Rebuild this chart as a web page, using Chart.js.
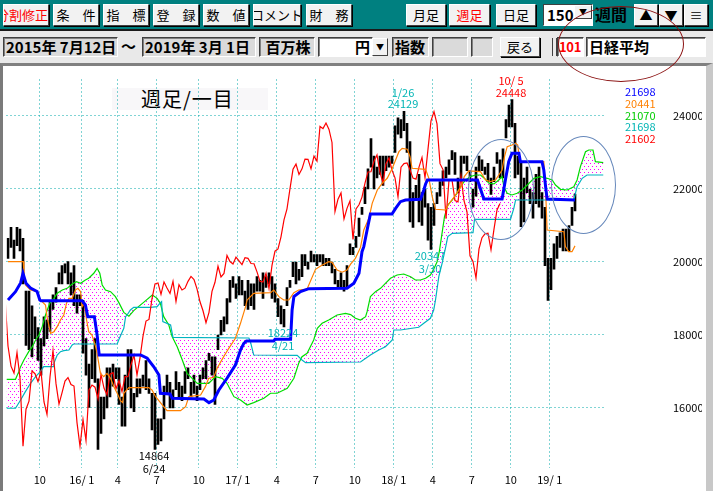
<!DOCTYPE html>
<html lang="ja">
<head>
<meta charset="utf-8">
<title>週足/一目</title>
<script src="https://cdn.jsdelivr.net/npm/chart.js@4.4.1/dist/chart.umd.min.js"></script>
<style>
  body { margin:0; width:713px; height:491px; overflow:hidden; position:relative; background:#e9e9e9; font-family:"Noto Sans CJK JP", sans-serif; }
  .top { position:absolute; left:0; top:0; width:713px; height:29px; background:#008080; border-bottom:2px solid #1a1a1a; }
  .btn { position:absolute; top:4px; height:22px; box-sizing:border-box; background:#f2f2f2; border:1px solid; border-color:#ffffff #404040 #404040 #ffffff; box-shadow:1px 1px 0 #000; font-size:13px; line-height:20px; color:#000; display:flex; justify-content:center; overflow:hidden; white-space:nowrap; }
  .red { color:#ff0000; }
  .fld { position:absolute; top:37px; height:20px; box-sizing:border-box; border:1px solid; border-color:#404040 #ffffff #ffffff #404040; box-shadow:inset 1px 1px 0 #808080; background:#dadada; font-weight:bold; font-size:15px; line-height:18px; white-space:nowrap; overflow:hidden; padding-left:2px; }
  .white { background:#ffffff; }
  #panel { position:absolute; left:0; top:63px; width:713px; height:428px; box-sizing:border-box; background:#fff; border-top:3px solid #808080; border-left:3px solid #7a7a7a; border-right:7px solid #c8c8c8; }
  #chart { position:absolute; left:0; top:64px; }
  .oval { position:absolute; border-radius:50%; box-sizing:border-box; pointer-events:none; }
  #legend { position:absolute; left:625px; top:86px; font-size:11px; line-height:11.8px; }
  #title { position:absolute; left:112px; top:88px; width:156px; height:22px; background:#f8f7f9; }
  #titleText { position:absolute; left:141px; top:84px; font-size:20px; letter-spacing:1px; color:#000; }
</style>
</head>
<body>
<div class="top"></div>
<div class="btn red" style="left:3px;width:46px;justify-content:flex-end">分割修正</div>
<div class="btn" style="left:53px;width:46px">条　件</div>
<div class="btn" style="left:103px;width:46px">指　標</div>
<div class="btn" style="left:153px;width:46px">登　録</div>
<div class="btn" style="left:203px;width:46px">数　値</div>
<div class="btn" style="left:253px;width:48px">コメント</div>
<div class="btn" style="left:306px;width:46px">財　務</div>
<div class="btn" style="left:406px;width:40px">月足</div>
<div class="btn red" style="left:449px;width:41px">週足</div>
<div class="btn" style="left:496px;width:40px">日足</div>
<div style="position:absolute;left:543px;top:4px;width:50px;height:22px;box-sizing:border-box;background:#fff;border:1px solid;border-color:#404040 #fff #fff #404040;font-weight:bold;font-size:15px;line-height:19px;padding-left:3px">150</div>
<div class="btn" style="left:574px;top:5px;width:18px;height:14px;font-size:8px;line-height:12px;box-shadow:none">▼</div>
<div style="position:absolute;left:595px;top:3px;font-weight:bold;font-size:16px;line-height:22px;color:#000">週間</div>
<div class="btn" style="left:634px;width:24px">▲</div>
<div class="btn" style="left:659px;width:24px">▼</div>
<div class="btn" style="left:684px;width:24px">≡</div>

<div class="fld" style="left:3px;width:115px">2015年 7月12日</div>
<div style="position:absolute;left:121px;top:37px;font-weight:bold;font-size:15px;line-height:18px">～</div>
<div class="fld" style="left:142px;width:114px">2019年 3月 1日</div>
<div class="fld" style="left:259px;width:56px;text-align:center">百万株</div>
<div class="fld white" style="left:318px;width:55px;text-align:right;padding-right:2px">円</div>
<div class="btn" style="left:372px;top:38px;width:16px;height:18px;font-size:8px;line-height:16px;box-shadow:none">▼</div>
<div class="fld" style="left:392px;width:37px">指数</div>
<div class="fld" style="left:432px;width:36px"></div>
<div class="fld" style="left:471px;width:22px"></div>
<div class="btn" style="left:500px;top:37px;width:40px;height:20px;line-height:18px">戻る</div>
<div style="position:absolute;left:552px;top:38px;width:3px;height:18px;border-left:1px solid #404040;border-right:1px solid #404040"></div>
<div class="fld white red" style="left:557px;width:27px;padding-left:1px;font-size:13px;letter-spacing:-0.3px">101</div>
<div class="fld white" style="left:586px;width:120px">日経平均</div>

<div id="panel"></div>
<div id="title"></div>
<div id="titleText">週足/一目</div>
<canvas id="chart" width="713" height="427"></canvas>
<div id="legend"></div>
<div class="oval" style="left:558px;top:6px;width:126px;height:76px;border:1px solid #8a1010"></div>
<div class="oval" style="left:468px;top:139px;width:66px;height:101px;border:1px solid #6688bb"></div>
<div class="oval" style="left:551px;top:136px;width:65px;height:98px;border:1px solid #6688bb"></div>

<script>
// weekly bars, week 0 = 2015/7/17 ... week 189 = 2019/3/1
const highs = [
  20650,20950,20600,20950,20900,20650,19200,19200,18800,18500,
  18200,17900,18500,18400,18900,19100,19300,19700,19900,19950,
  20012,19700,19900,19100,19100,18951,17900,17200,17600,17900,
  16800,16300,16300,17100,17100,17200,17100,17100,16300,16900,
  17600,17600,16400,16800,16800,16900,17300,16800,16400,16400,
  15700,15700,16600,16900,16700,16500,17000,16700,16600,17000,
  17100,16700,16900,16600,16900,17100,17300,17500,17400,17400,
  18000,18400,18500,19000,19500,19600,19400,19600,19500,19200,
  19500,19400,19400,19600,19500,19700,19600,19700,19600,19400,
  19000,18800,18700,19300,19500,20000,20000,19800,20200,20200,
  20000,20300,20200,20200,20200,20200,20100,20100,20000,19800,
  19500,19700,19500,19900,20500,20400,20700,21200,21500,22050,
  22550,23382,22900,22600,22900,22900,22900,22900,22900,23730,
  23950,23900,24129,23800,23300,21900,22100,22400,21900,22000,
  21600,21500,21600,21900,22200,22500,22600,22800,23050,23000,
  22300,22900,22900,22900,22500,22000,22600,22900,22800,22600,
  22700,22300,22600,23000,22800,23100,23900,24300,24448,23800,
  22900,22700,22300,22600,22000,21900,22400,22600,21900,21500,
  20100,20100,20500,20700,20800,20900,20900,21000,21500,21860
];
const lows = [
  20100,20400,20100,20450,20300,19400,17714,17600,17400,17900,
  17300,16901,17700,17900,18100,18700,18900,19400,19400,19700,
  19400,19100,18800,18600,18800,17500,16900,16017,16800,16700,
  14865,15300,15700,16000,16300,16600,16800,16100,15500,15500,
  16500,16000,15900,16300,16400,16600,16500,16400,15400,14864,
  15000,15100,15700,16400,16000,16000,16500,16300,16200,16400,
  16800,16300,16400,16200,16500,16800,16800,17300,16900,16100,
  17600,18000,18100,18300,18900,19300,19000,19100,19100,18800,
  18700,18800,18700,19200,19200,19000,19300,19400,19000,18900,
  18500,18300,18224,18800,19300,19600,19400,19500,19600,19900,
  19800,20000,20000,19900,20000,19900,19900,19900,19700,19400,
  19300,19300,19200,19300,20200,20200,20400,20700,21300,21600,
  22000,22600,22000,22300,22400,22100,22500,22600,22700,23000,
  23500,23400,23600,23000,21100,20950,21700,21100,21000,21500,
  20600,20347,21000,21600,21800,22100,22300,22400,22800,22400,
  21900,22300,22700,22500,22200,21500,21800,22500,22500,22400,
  22200,21850,22200,22700,22300,22300,23400,23700,23700,22300,
  22400,20971,21100,21900,21600,21200,21600,21500,21200,19900,
  18949,19241,19800,20100,20400,20300,20300,20300,21000,21400
];
const closes = [
  20650,20545,20585,20724,20520,19436,19136,17792,18264,18070,
  17880,17725,18438,18291,18825,19083,19265,19597,19880,19883,
  19504,19230,18986,18770,19034,17698,17147,16958,17518,16820,
  14952,15967,16188,17015,16939,16725,17003,16164,15822,16848,
  17572,16666,16106,16412,16736,16834,16642,16601,15599,14952,
  15682,15107,16497,16627,16569,16254,16920,16545,16360,16925,
  16965,16519,16754,16450,16860,16856,17185,17446,16905,17374,
  17968,18381,18426,18996,19401,19427,19114,19454,19287,19137,
  19467,18918,19378,19234,19283,19469,19604,19521,19262,18909,
  18664,18335,18620,19197,19445,19883,19590,19686,20177,20013,
  19943,20132,20033,19929,20118,20099,19959,19952,19729,19470,
  19452,19691,19274,19909,20296,20356,20690,21155,21457,22008,
  22539,22681,22397,22551,22819,22811,22553,22902,22765,23714,
  23654,23808,23632,23275,21383,21720,21893,21182,21469,21676,
  20617,21454,21567,21778,22162,22467,22472,22758,22930,22451,
  22171,22694,22851,22516,22305,21788,22597,22697,22712,22525,
  22298,22270,22601,22865,22307,23094,23869,24120,23784,22694,
  22532,21184,22243,22250,21680,21646,22351,21678,21374,20166,
  20014,19561,20359,20666,20773,20788,20333,20900,21425,21602
];
const CHIKOU_LAG = 25; // 遅行スパン: close drawn 25 weeks back

// 一目均衡表 lines: [week, price]
const kijun = [[0,18959],[2.5,19187],[4.2,19425],[5,19690],[6,19420],[7.5,19288],[9.7,19190],[10.6,18959],[11,18940],[24.7,18940],[25.8,18822],[26.6,18500],[28.8,18500],[29.7,18000],[30.4,17452],[44.2,17452],[46.4,17362],[48.6,17130],[50.3,16904],[50.8,16404],[54,16384],[54.7,16266],[65.3,16247],[67,16146],[68.6,16219],[70.3,16493],[73,16815],[75.8,17178],[77.5,17589],[78.6,17771],[79.5,17836],[88.6,17836],[89,17882],[94.2,17882],[94.7,18685],[95.3,19050],[97.5,19187],[100.3,19270],[113,19280],[115.3,19416],[117,19690],[118,20282],[118.6,20420],[119.7,20877],[120.8,21315],[128,21315],[129.2,21470],[130.8,21652],[132.5,21699],[137.5,21718],[138.6,21973],[139.2,22137],[139.8,22247],[156.5,22247],[157.5,22000],[158.6,21726],[164.7,21726],[165.8,22247],[166.9,22748],[168,22978],[170.3,22978],[170.8,22748],[178,22748],[178.6,22521],[179.2,22063],[179.7,21726],[189,21698]];
const tenkan = [[0,20010],[5.1,20010],[5.3,19690],[5.8,19370],[7.5,19233],[9.7,19187],[10.8,18959],[12.5,18822],[13,18500],[14.2,18046],[15.3,18090],[16.4,18228],[17.5,18411],[18.6,18548],[19.5,18868],[20.3,19005],[21.4,19005],[22.5,19233],[23.3,19278],[24.2,19187],[24.7,18777],[25.3,18870],[26.2,18411],[26.9,18090],[28,18000],[29.2,17680],[29.7,17498],[30.8,16950],[31.9,16858],[33,16950],[34.2,16813],[35.3,16584],[36.4,16404],[37.5,16200],[38.2,16150],[38.6,16404],[40.3,16558],[46.9,16558],[48,16493],[49.2,16310],[51.9,16036],[53,15927],[57.5,15927],[59.2,16036],[60.3,16310],[64.2,16356],[65.8,16585],[66.9,16813],[68.6,16840],[69.7,17087],[71.9,17406],[73.6,17635],[75.8,17909],[77.5,18320],[79.2,18777],[79.7,18959],[81.9,19142],[87.5,19160],[88.6,19233],[90.3,19050],[91.9,18959],[93.6,18959],[95.3,19160],[96.9,19233],[99.7,19260],[102.5,19800],[104.2,19890],[106.9,20010],[108,19990],[109.7,19781],[111.4,19720],[113,19781],[114.2,19940],[115.8,20100],[117.5,20400],[118.6,20877],[120.3,21196],[121.4,21608],[123.1,21973],[124.7,22156],[126.4,22293],[128.1,22567],[129.2,22795],[130.3,23022],[131.4,23115],[133.1,23090],[134,22885],[134.7,22567],[139.2,22540],[140.3,22293],[141.4,21790],[142.5,21444],[145.8,21425],[147.1,21608],[148.8,21790],[149.9,21926],[151,22063],[152.1,22339],[153.6,22494],[157.5,22476],[159.2,22247],[160.8,22202],[162.5,22247],[163.6,22384],[164.7,22521],[165.5,22885],[166.4,23159],[168,23206],[169.2,23252],[169.9,23206],[170.6,22748],[178.6,22748],[179.2,21973],[179.7,20877],[185.3,20830],[185.8,20420],[186.9,20282],[188,20282],[189,20441]];
const senkouA = [[-0.5,16786],[2.5,16786],[3.6,16996],[4.2,17133],[5.3,17315],[6.9,17543],[8.1,17680],[9.2,17863],[10.3,18000],[11.4,18228],[12.5,18548],[13.9,18868],[15.3,19005],[16.4,19142],[18.1,19233],[19.7,19278],[21.4,19397],[22.8,19461],[24.2,19416],[25.8,19507],[26.9,19553],[28.6,19690],[29.7,19827],[30.6,19690],[31.4,19370],[32.5,19233],[34.2,19187],[35.8,19050],[37,18880],[38.6,18620],[40.3,18515],[42,18675],[45.3,18900],[48.1,19096],[49.7,19005],[50.8,18868],[51.9,18502],[53.6,18274],[54.7,17955],[56.4,17680],[58.1,17315],[59.7,16950],[61.4,16813],[63.1,16676],[66.9,16676],[69.2,16858],[71.4,16813],[73,16676],[75.3,16310],[77.5,16219],[79.7,16082],[81.9,16146],[85.3,16265],[87.5,16404],[89.7,16404],[93.1,16539],[95.3,16813],[96.9,17224],[98,17406],[99.7,17498],[101.9,17863],[103.1,18183],[104.7,18320],[106.9,18411],[109.7,18548],[112.5,18594],[114.2,18560],[115.8,18457],[117.5,18411],[119.2,18500],[119.7,18640],[120.8,19050],[122.5,19187],[124.2,19278],[125.8,19416],[127.5,19553],[129.7,19644],[131.9,19671],[134.2,19598],[135.8,19507],[137.5,19507],[139.2,19553],[140.8,19644],[141.9,19800],[143,20000],[143.8,20300],[144.7,20800],[145.5,21242],[146.6,21562],[148.1,21699],[149.7,21882],[150.8,22063],[152.5,22247],[154.2,22339],[155.8,22384],[157.5,22384],[159.2,22265],[160.3,22156],[162,22140],[163.6,22247],[164.7,22339],[165.3,22063],[166.4,21882],[168,21836],[169.7,21882],[171.4,21973],[173.1,22110],[175.3,22293],[177.5,22339],[179.7,22293],[181.4,22247],[182.5,22110],[184.2,21991],[186.4,21973],[188.6,22063],[189.7,22247],[190.8,22612],[192.5,23022],[193.6,23068],[195,23068],[195.8,22748],[198.5,22722]];
const senkouB = [[-0.5,15992],[2.5,15992],[4.2,16219],[5.8,16448],[7.5,16676],[9.2,16858],[10.8,16996],[11.9,17133],[15,17133],[15.3,17224],[16.4,17452],[17.5,17543],[18.6,17570],[20.3,17589],[21.4,17726],[21.9,17753],[36.4,17753],[36.9,17863],[38.6,18183],[39.2,18502],[39.7,18548],[40.8,18685],[41.9,18758],[47.5,18758],[49.7,18777],[50.6,18868],[51.2,18914],[51.6,18365],[54.2,18274],[55,17937],[80.3,17918],[80.8,17817],[81.9,17452],[96.4,17443],[98,17315],[99.2,17242],[117.5,17260],[120.8,17452],[123.6,17589],[125.8,17680],[128.1,17863],[128.6,18137],[130.8,18137],[136.9,18211],[138.6,18320],[140.8,18457],[141.9,18685],[142.5,18959],[143.6,19598],[144.7,19964],[145.8,20375],[146.6,20695],[148.1,20786],[155,20804],[155.5,21169],[167.5,21169],[168.6,21470],[169.2,21699],[188.6,21699],[189.7,22063],[191.4,22293],[193,22384],[198.5,22384]];

const monthTicks = [10.6, 24.6, 36.6, 49.6, 63.6, 76.6, 89.6, 102.6, 115.6, 128.6, 141.6, 154.6, 167.6, 180.6];
const monthLabels = ['10', '16/ 1', '4', '7', '10', '17/ 1', '4', '7', '10', '18/ 1', '4', '7', '10', '19/ 1'];
const priceTicks = [16000, 18000, 20000, 22000, 24000];

// 高値・安値の注記
const noteWeeks = [132, 168, 49, 92, 141];
const notePrices = [24129, 24448, 14864, 18224, 20347];
const noteDates = ['1/26', '10/ 5', '6/24', '4/21', '3/30'];
const noteIsHigh = [true, true, false, false, false];
const noteColors = ['#00b4b4', '#ff0000', '#000000', '#00b4b4', '#00b4b4'];

const legendValues = [21698, 20441, 21070, 21698, 21602];
const legendColors = ['#0000ff', '#ff8000', '#00cc00', '#00b4b4', '#ff0000'];

const FONT = '"Noto Sans CJK JP", sans-serif';

document.getElementById('legend').innerHTML = legendValues
  .map((v, i) => '<div style="color:' + legendColors[i] + '">' + v + '</div>').join('');

const ctx = document.getElementById('chart').getContext('2d');

// 雲: sparse magenta dots
function cloudPattern() {
  const c = document.createElement('canvas');
  c.width = 4; c.height = 6;
  const g = c.getContext('2d');
  g.fillStyle = '#ff00ff';
  g.fillRect(0, 0, 1, 1);
  g.fillRect(2, 3, 1, 1);
  return ctx.createPattern(c, 'repeat');
}

const pairs = arr => arr.map(p => ({x: p[0], y: p[1]}));

const notesPlugin = {
  id: 'notes',
  afterDatasetsDraw(chart) {
    const c = chart.ctx, xs = chart.scales.x, ys = chart.scales.y;
    c.save();
    c.font = '11px ' + FONT;
    c.textAlign = 'center';
    c.textBaseline = 'middle';
    noteWeeks.forEach((w, i) => {
      const x = xs.getPixelForValue(w) - 1;
      const y = ys.getPixelForValue(notePrices[i]);
      c.fillStyle = noteColors[i];
      if (noteIsHigh[i]) {
        c.fillText(String(notePrices[i]), x, y - 7);
        c.fillText(noteDates[i], x, y - 18.5);
      } else {
        c.fillText(String(notePrices[i]), x, y + 6);
        c.fillText(noteDates[i], x, y + 19);
      }
    });
    c.restore();
  }
};

const lineOpts = (color, width) => ({
  type: 'line', borderColor: color, borderWidth: width, pointRadius: 0,
  tension: 0, fill: false
});

new Chart(ctx, {
  type: 'line',
  data: {
    datasets: [
      {
        type: 'bar',
        data: highs.map((h, i) => ({x: i, y: [lows[i], h]})),
        backgroundColor: '#000000',
        borderWidth: 0,
        barThickness: 2,
        grouped: false,
        order: 10
      },
      Object.assign(lineOpts('#00b4c0', 1.2), {data: pairs(senkouB), order: 4}),
      Object.assign(lineOpts('#00dd00', 1.2), {data: pairs(senkouA), order: 4,
        fill: {target: 1}, backgroundColor: cloudPattern()}),
      Object.assign(lineOpts('#ff0000', 1.2), {data: closes.map((c, i) => ({x: i - CHIKOU_LAG, y: c})), order: 3}),
      Object.assign(lineOpts('#ff8000', 1.2), {data: pairs(tenkan), order: 2}),
      Object.assign(lineOpts('#0000ff', 3), {data: pairs(kijun), order: 1})
    ]
  },
  options: {
    responsive: false,
    animation: false,
    events: [],
    layout: {padding: {left: 6.5, right: 11, top: 15.5, bottom: 0}},
    plugins: {
      legend: {display: false},
      tooltip: {enabled: false},
      filler: {drawTime: 'beforeDatasetsDraw'}
    },
    scales: {
      x: {
        type: 'linear', min: -0.5, max: 198.5, offset: false,
        afterBuildTicks: s => { s.ticks = monthTicks.map(v => ({value: v})); },
        afterFit: s => { s.height = 22.8; s.paddingLeft = 0; s.paddingRight = 0; },
        ticks: {autoSkip: false, maxRotation: 0, padding: 5, color: '#000',
          font: {family: FONT, size: 11}, callback: (v, i) => monthLabels[i]},
        grid: {color: '#00a8a8', drawTicks: false, offset: false},
        border: {display: false, dash: [1, 3]}
      },
      y: {
        type: 'linear', position: 'right', min: 14350, max: 25000, beginAtZero: false,
        afterBuildTicks: s => { s.ticks = priceTicks.map(v => ({value: v})); },
        afterFit: s => { s.width = 98.5; s.paddingTop = 0; s.paddingBottom = 0; },
        ticks: {crossAlign: 'near', padding: 69.5, color: '#000', font: {family: FONT, size: 11},
          callback: v => String(v)},
        grid: {color: '#00a8a8', drawTicks: false},
        border: {display: false, dash: [1, 3]}
      }
    }
  },
  plugins: [notesPlugin]
});
</script>
</body>
</html>
